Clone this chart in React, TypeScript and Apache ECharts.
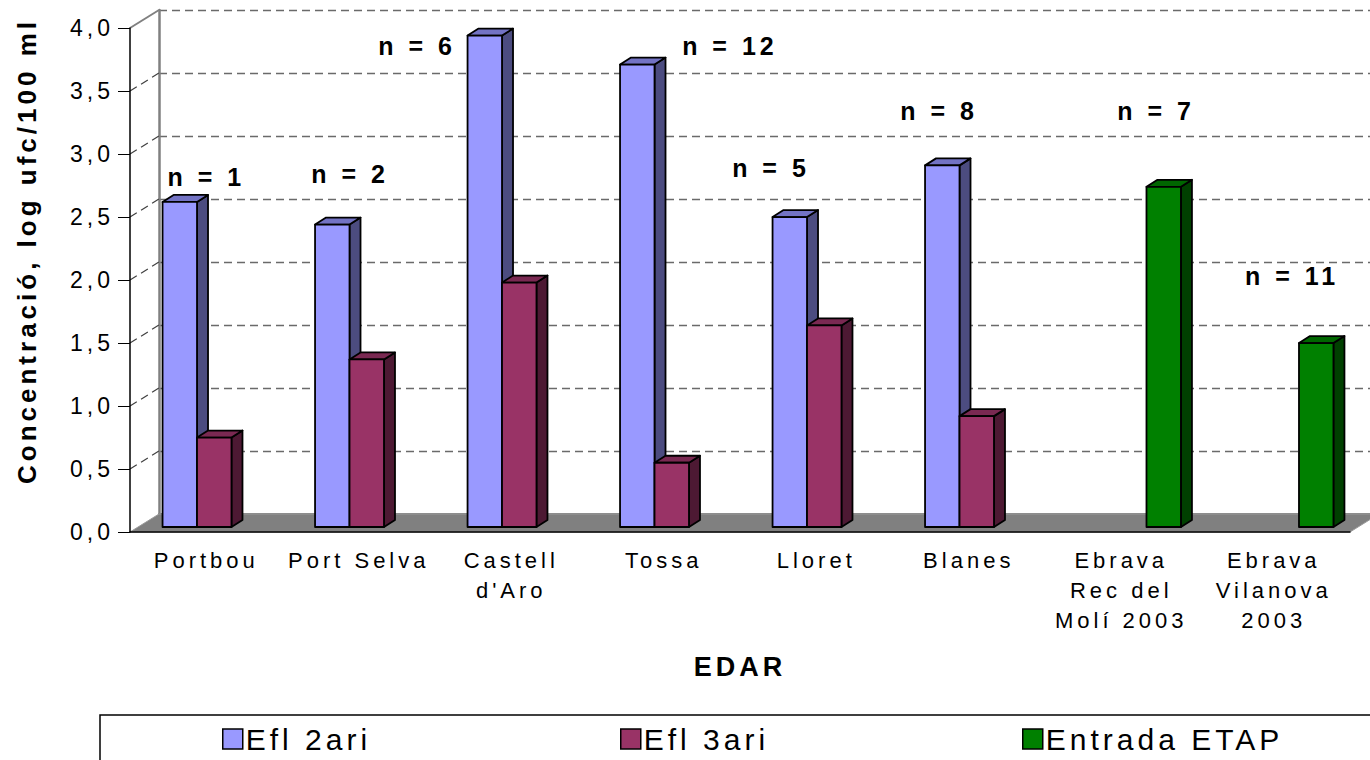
import React, { useEffect, useRef } from 'react';
import * as echarts from 'echarts';

// ---------- data ----------
const categories = [
  'Portbou',
  'Port Selva',
  "Castell\nd'Aro",
  'Tossa',
  'Lloret',
  'Blanes',
  'Ebrava\nRec del\nMolí 2003',
  'Ebrava\nVilanova\n2003',
];
const seriesNames = ['Efl 2ari', 'Efl 3ari', 'Entrada ETAP'];
const efl2ari = [2.58, 2.4, 3.9, 3.67, 2.46, 2.87, null, null];
const efl3ari = [0.71, 1.33, 1.94, 0.51, 1.6, 0.88, null, null];
const entradaEtap = [null, null, null, null, null, null, 2.7, 1.46];
const nLabels = ['n = 1', 'n = 2', 'n = 6', 'n = 12', 'n = 5', 'n = 8', 'n = 7', 'n = 11'];
const yTicks = [0.5, 1, 1.5, 2, 2.5, 3, 3.5, 4];

// ---------- layout (not data) ----------
// [category index, shift in category bands, y value where label is centred]
const nLabelPlace = [
  [0, 0, 2.82],
  [1, -0.057, 2.84],
  [2, -0.618, 3.86],
  [3, 0.434, 3.86],
  [4, -0.297, 2.89],
  [5, -0.195, 3.34],
  [6, 0.228, 3.34],
  [7, 0.12, 2.03],
];
const legendLeft = [222, 620, 1022];
const DEPTH_DX = 29;
const DEPTH_DY = -18;
const FRONT_DX = 8;
const FRONT_DY = -5;
const SIDE_DX = 11;
const SIDE_DY = -7;
const BAR_FRAC = 0.226;
const FONT = '"Liberation Sans", Arial, sans-serif';

const palette = [
  { front: '#9999FF', top: '#7373c4', side: '#4c4c80' },
  { front: '#993366', top: '#7a2952', side: '#4d1933' },
  { front: '#008000', top: '#006600', side: '#004000' },
];

function barRenderer(k: number) {
  const col = palette[k];
  return (params: any, api: any) => {
    const cat = api.value(0);
    const v = api.value(1);
    const top = api.coord([cat, v]);
    const base = api.coord([cat, 0]);
    const band = api.size([1, 0])[0];
    const w = band * BAR_FRAC;
    const x0 = top[0] + (k - 1) * w - w / 2 + FRONT_DX;
    const yT = top[1] + FRONT_DY;
    const yB = base[1] + FRONT_DY;
    const stroke = { stroke: '#000', lineWidth: 1.8, lineJoin: 'round' };
    return {
      type: 'group',
      children: [
        {
          type: 'polygon',
          shape: {
            points: [
              [x0 + w, yT],
              [x0 + w + SIDE_DX, yT + SIDE_DY],
              [x0 + w + SIDE_DX, yB + SIDE_DY],
              [x0 + w, yB],
            ],
          },
          style: { fill: col.side, ...stroke },
        },
        {
          type: 'polygon',
          shape: {
            points: [
              [x0, yT],
              [x0 + SIDE_DX, yT + SIDE_DY],
              [x0 + w + SIDE_DX, yT + SIDE_DY],
              [x0 + w, yT],
            ],
          },
          style: { fill: col.top, ...stroke },
        },
        {
          type: 'rect',
          shape: { x: x0, y: yT, width: w, height: yB - yT },
          style: { fill: col.front, ...stroke },
        },
      ],
    };
  };
}

const toData = (arr: (number | null)[]) =>
  arr.map((v, i) => [i, v]).filter((d) => d[1] !== null);

export default function App() {
  const ref = useRef<HTMLDivElement>(null);
  useEffect(() => {
    if (!ref.current) return;
    const chart = echarts.init(ref.current, undefined, { renderer: 'svg' });
    const option: any = {
      animation: false,
      backgroundColor: '#ffffff',
      grid: [
        { left: 130, top: 28, width: 1220, height: 504 },
        { left: 130 + DEPTH_DX, top: 28 + DEPTH_DY, width: 1240, height: 504 },
      ],
      xAxis: [
        {
          gridIndex: 0,
          type: 'category',
          data: categories,
          axisLine: { lineStyle: { color: '#000', width: 1.5 } },
          axisTick: { length: 8, lineStyle: { color: '#000' } },
          axisLabel: {
            fontFamily: FONT,
            fontSize: 22,
            color: '#000',
            interval: 0,
            lineHeight: 30,
            margin: 13,
          },
          name: 'EDAR',
          nameLocation: 'middle',
          nameGap: 121,
          nameTextStyle: { fontFamily: FONT, fontSize: 27, fontWeight: 'bold', color: '#000' },
          z: 10,
        },
        {
          gridIndex: 1,
          type: 'category',
          data: categories,
          position: 'top',
          axisLine: { lineStyle: { color: '#808080', width: 2 } },
          axisTick: { show: false },
          axisLabel: { show: false },
        },
      ],
      yAxis: [
        {
          gridIndex: 0,
          type: 'value',
          min: 0,
          max: 4,
          interval: 0.5,
          axisLine: { show: true, lineStyle: { color: '#000', width: 1.5 } },
          axisTick: { show: true, length: 12, lineStyle: { color: '#000' } },
          splitLine: { show: false },
          axisLabel: {
            fontFamily: FONT,
            fontSize: 23,
            color: '#000',
            margin: 16,
            formatter: (v: number) => v.toFixed(1).replace('.', ','),
          },
          name: 'Concentració, log ufc/100 ml',
          nameLocation: 'middle',
          nameRotate: 90,
          nameGap: 90,
          nameTextStyle: {
            fontFamily: FONT,
            fontSize: 26,
            fontWeight: 'bold',
            color: '#000',
            padding: [0, 0, 0, 58],
          },
          z: 10,
        },
        {
          gridIndex: 1,
          type: 'value',
          min: 0,
          max: 4,
          interval: 0.5,
          axisLine: { show: true, lineStyle: { color: '#808080', width: 2.5 } },
          axisTick: { show: false },
          axisLabel: { show: false },
          splitLine: { show: true, lineStyle: { color: '#6a6a6a', width: 1.3, type: [8, 5] } },
        },
      ],
      legend: seriesNames.map((name, i) => ({
        data: [
          {
            name,
            icon: 'rect',
            itemStyle: { color: palette[i].front, borderColor: '#000', borderWidth: 1.5 },
          },
        ],
        left: legendLeft[i],
        top: 724,
        itemWidth: 20,
        itemHeight: 20,
        padding: 0,
        selectedMode: false,
        textStyle: { fontFamily: FONT, fontSize: 30, color: '#000', padding: [0, 0, 0, -2] },
      })),
      graphic: [
        {
          type: 'rect',
          shape: { x: 100, y: 715, width: 1300, height: 80 },
          style: { fill: 'none', stroke: '#000', lineWidth: 1.5 },
          z: 1,
        },
      ],
      series: [
        // floor
        {
          type: 'custom',
          xAxisIndex: 0,
          yAxisIndex: 0,
          z: 1,
          silent: true,
          data: [[0, 0]],
          renderItem: (params: any, api: any) => {
            const cs = params.coordSys;
            const y0 = api.coord([0, 0])[1];
            const xl = cs.x;
            const xr = cs.x + cs.width;
            return {
              type: 'polygon',
              shape: {
                points: [
                  [xl, y0],
                  [xr, y0],
                  [xr + DEPTH_DX, y0 + DEPTH_DY],
                  [xl + DEPTH_DX, y0 + DEPTH_DY],
                ],
              },
              style: { fill: '#808080', stroke: '#9a9a9a', lineWidth: 1 },
            };
          },
        },
        // diagonal tick connectors on the side wall
        {
          type: 'custom',
          xAxisIndex: 0,
          yAxisIndex: 0,
          z: 1,
          silent: true,
          data: yTicks.map((v) => [0, v]),
          renderItem: (params: any, api: any) => {
            const cs = params.coordSys;
            const v = api.value(1);
            const y = api.coord([0, v])[1];
            const isTop = v >= 4;
            return {
              type: 'line',
              shape: { x1: cs.x, y1: y, x2: cs.x + DEPTH_DX, y2: y + DEPTH_DY },
              style: isTop
                ? { stroke: '#808080', lineWidth: 2 }
                : { stroke: '#404040', lineWidth: 1.2, lineDash: [8, 5] },
            };
          },
        },
        ...[efl2ari, efl3ari, entradaEtap].map((arr, k) => ({
          name: seriesNames[k],
          type: 'custom',
          xAxisIndex: 0,
          yAxisIndex: 0,
          z: 3,
          itemStyle: { color: palette[k].front },
          data: toData(arr),
          renderItem: barRenderer(k),
        })),
        // n = ... annotations
        {
          type: 'custom',
          xAxisIndex: 0,
          yAxisIndex: 0,
          z: 5,
          silent: true,
          data: nLabelPlace.map((p, i) => [p[0], p[2], p[1], i]),
          renderItem: (params: any, api: any) => {
            const cat = api.value(0);
            const yv = api.value(1);
            const shift = api.value(2);
            const idx = api.value(3);
            const pt = api.coord([cat, yv]);
            const band = api.size([1, 0])[0];
            return {
              type: 'text',
              x: pt[0] + shift * band,
              y: pt[1],
              style: {
                text: nLabels[idx],
                fontFamily: FONT,
                fontSize: 25,
                fontWeight: 'bold',
                fill: '#000',
                align: 'center',
                verticalAlign: 'middle',
              },
            };
          },
        },
      ],
    };
    chart.setOption(option);
    return () => chart.dispose();
  }, []);
  return (
    <>
      <style>{'#chartbox text{letter-spacing:4px}'}</style>
      <div
        id="chartbox"
        ref={ref}
        style={{ position: 'fixed', left: 0, top: 0, width: 1370, height: 760, background: '#fff' }}
      />
    </>
  );
}
